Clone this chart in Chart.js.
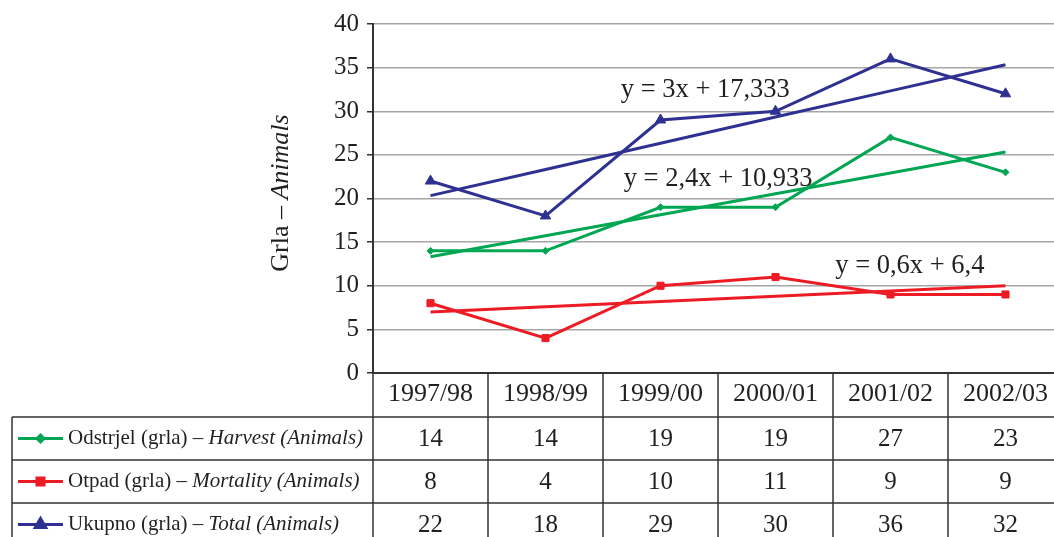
<!DOCTYPE html>
<html>
<head>
<meta charset="utf-8">
<script src="https://cdn.jsdelivr.net/npm/chart.js@4.4.1/dist/chart.umd.min.js"></script>
<style>
  html, body { margin: 0; padding: 0; background: #fff; overflow: hidden; width: 1054px; height: 537px; }
  #wrap { position: relative; width: 1070px; height: 537px; }
</style>
</head>
<body>
<div id="wrap"><canvas id="c"></canvas></div>
<script>
// Hunting seasons and head counts
const seasons   = ['1997/98', '1998/99', '1999/00', '2000/01', '2001/02', '2002/03'];
const harvest   = [14, 14, 19, 19, 27, 23];
const mortality = [8, 4, 10, 11, 9, 9];
const total     = [22, 18, 29, 30, 36, 32];

// Series labels: plain part + italic English part
const harvestName   = ['Odstrjel (grla) – ', 'Harvest (Animals)'];
const mortalityName = ['Otpad (grla) – ', 'Mortality (Animals)'];
const totalName     = ['Ukupno (grla) – ', 'Total (Animals)'];

const yTicks = [0, 5, 10, 15, 20, 25, 30, 35, 40];
const yTitle = ['Grla – ', 'Animals'];

const GREEN = '#00a651', RED = '#ed1c24', BLUE = '#2e3192', INK = '#231f20';
const SERIF = '"Liberation Serif", "Times New Roman", serif';

// Least-squares line over x = 1..n
function linFit(vals) {
  const n = vals.length;
  let sx = 0, sy = 0, sxy = 0, sxx = 0;
  vals.forEach((v, i) => { const x = i + 1; sx += x; sy += v; sxy += x * v; sxx += x * x; });
  const a = (n * sxy - sx * sy) / (n * sxx - sx * sx);
  const b = (sy - a * sx) / n;
  return { a, b, fitted: vals.map((_, i) => a * (i + 1) + b) };
}
function fmt(v) {
  return String(parseFloat(v.toFixed(3))).replace('.', ',');
}
const fits = {
  harvest: linFit(harvest),
  mortality: linFit(mortality),
  total: linFit(total)
};

const series = [
  { key: 'harvest',   name: harvestName,   data: harvest,   color: GREEN, style: 'rectRot',  r: 3.5 },
  { key: 'mortality', name: mortalityName, data: mortality, color: RED,   style: 'rect',     r: 5 },
  { key: 'total',     name: totalName,     data: total,     color: BLUE,  style: 'triangle', r: 6 }
];

// Equation label anchors (category index, value), left-aligned
const eqAnchors = {
  total:     [1.655, 32.4],
  harvest:   [1.68, 22.2],
  mortality: [3.52, 12.3]
};

const datasets = [];
series.forEach(s => {
  datasets.push({
    label: s.key + '-trend',
    data: fits[s.key].fitted,
    borderColor: s.color, borderWidth: 3, pointRadius: 0, tension: 0, fill: false
  });
});
series.forEach(s => {
  datasets.push({
    label: s.key,
    data: s.data,
    borderColor: s.color, backgroundColor: s.color, borderWidth: 3,
    pointStyle: s.style, pointRadius: s.r, pointBorderWidth: 1,
    pointBackgroundColor: s.color, pointBorderColor: s.color, tension: 0, fill: false
  });
});

function drawMixed(ctx, parts, x, y, size, align) {
  ctx.font = size + 'px ' + SERIF;
  const w0 = ctx.measureText(parts[0]).width;
  ctx.font = 'italic ' + size + 'px ' + SERIF;
  const w1 = ctx.measureText(parts[1]).width;
  let sx = align === 'center' ? x - (w0 + w1) / 2 : x;
  ctx.textAlign = 'left';
  ctx.font = size + 'px ' + SERIF;
  ctx.fillText(parts[0], sx, y);
  ctx.font = 'italic ' + size + 'px ' + SERIF;
  ctx.fillText(parts[1], sx + w0, y);
}

const tablePlugin = {
  id: 'dataTable',
  afterDraw(chart) {
    const ctx = chart.ctx;
    const xs = chart.scales.x, ys = chart.scales.y;
    const area = chart.chartArea;
    const colW = (area.right - area.left) / seasons.length;
    const rowTop = 417, rowH = 43;
    const tableLeft = 12;
    ctx.save();

    // grid lines of the table
    ctx.strokeStyle = '#333';
    ctx.lineWidth = 1.5;
    ctx.beginPath();
    for (let r = 0; r < series.length; r++) {
      const y = rowTop + r * rowH;
      ctx.moveTo(tableLeft, y); ctx.lineTo(area.right, y);
    }
    ctx.moveTo(tableLeft, rowTop); ctx.lineTo(tableLeft, 560);
    for (let c = 0; c <= seasons.length; c++) {
      const x = area.left + c * colW;
      ctx.moveTo(x, area.bottom); ctx.lineTo(x, 560);
    }
    ctx.stroke();

    // rows: legend key, series name, values
    series.forEach((s, r) => {
      const cy = rowTop + r * rowH + rowH / 2;
      ctx.strokeStyle = s.color;
      ctx.lineWidth = 3;
      ctx.beginPath(); ctx.moveTo(18, cy); ctx.lineTo(63, cy); ctx.stroke();
      ctx.fillStyle = s.color;
      Chart.helpers.drawPoint(ctx, { pointStyle: s.style, radius: s.r, borderWidth: 1, rotation: 0 }, 40.5, cy);
      ctx.fillStyle = INK;
      ctx.textBaseline = 'middle';
      drawMixed(ctx, s.name, 68, cy, 21, 'left');
      ctx.font = '25px ' + SERIF;
      ctx.textAlign = 'center';
      s.data.forEach((v, i) => ctx.fillText(String(v), xs.getPixelForValue(i), cy + 1));
    });

    // trend equations
    ctx.fillStyle = INK;
    ctx.font = '26.5px ' + SERIF;
    ctx.textAlign = 'left';
    ctx.textBaseline = 'middle';
    series.forEach(s => {
      const f = fits[s.key];
      const [ix, v] = eqAnchors[s.key];
      const txt = 'y = ' + fmt(f.a) + 'x + ' + fmt(f.b);
      ctx.fillText(txt, xs.getPixelForValue(ix), ys.getPixelForValue(v));
    });

    // rotated axis title
    ctx.translate(281, 193);
    ctx.rotate(-Math.PI / 2);
    ctx.textBaseline = 'middle';
    drawMixed(ctx, yTitle, 0, 0, 26, 'center');
    ctx.restore();
  }
};

new Chart(document.getElementById('c'), {
  type: 'line',
  data: { labels: seasons, datasets },
  options: {
    responsive: true,
    maintainAspectRatio: false,
    animation: false,
    devicePixelRatio: 1,
    layout: { padding: { left: 0, top: 24, right: 4, bottom: 0 } },
    plugins: { legend: { display: false }, tooltip: { enabled: false } },
    scales: {
      x: {
        type: 'category',
        offset: true,
        grid: { display: false, drawTicks: false },
        border: { display: true, color: '#333', width: 2 },
        ticks: { color: INK, font: { family: SERIF, size: 26 }, padding: 6, maxRotation: 0, autoSkip: false },
        afterFit(scale) { scale.height = 164; }
      },
      y: {
        min: yTicks[0],
        max: yTicks[yTicks.length - 1],
        afterBuildTicks(scale) { scale.ticks = yTicks.map(v => ({ value: v })); },
        grid: { color: '#a6a6a6', lineWidth: 1.5, tickLength: 6, tickColor: '#333' },
        border: { display: true, color: '#333', width: 2 },
        ticks: { color: INK, font: { family: SERIF, size: 25 }, padding: 8 },
        afterFit(scale) { scale.width = 373; }
      }
    }
  },
  plugins: [tablePlugin]
});
</script>
</body>
</html>
